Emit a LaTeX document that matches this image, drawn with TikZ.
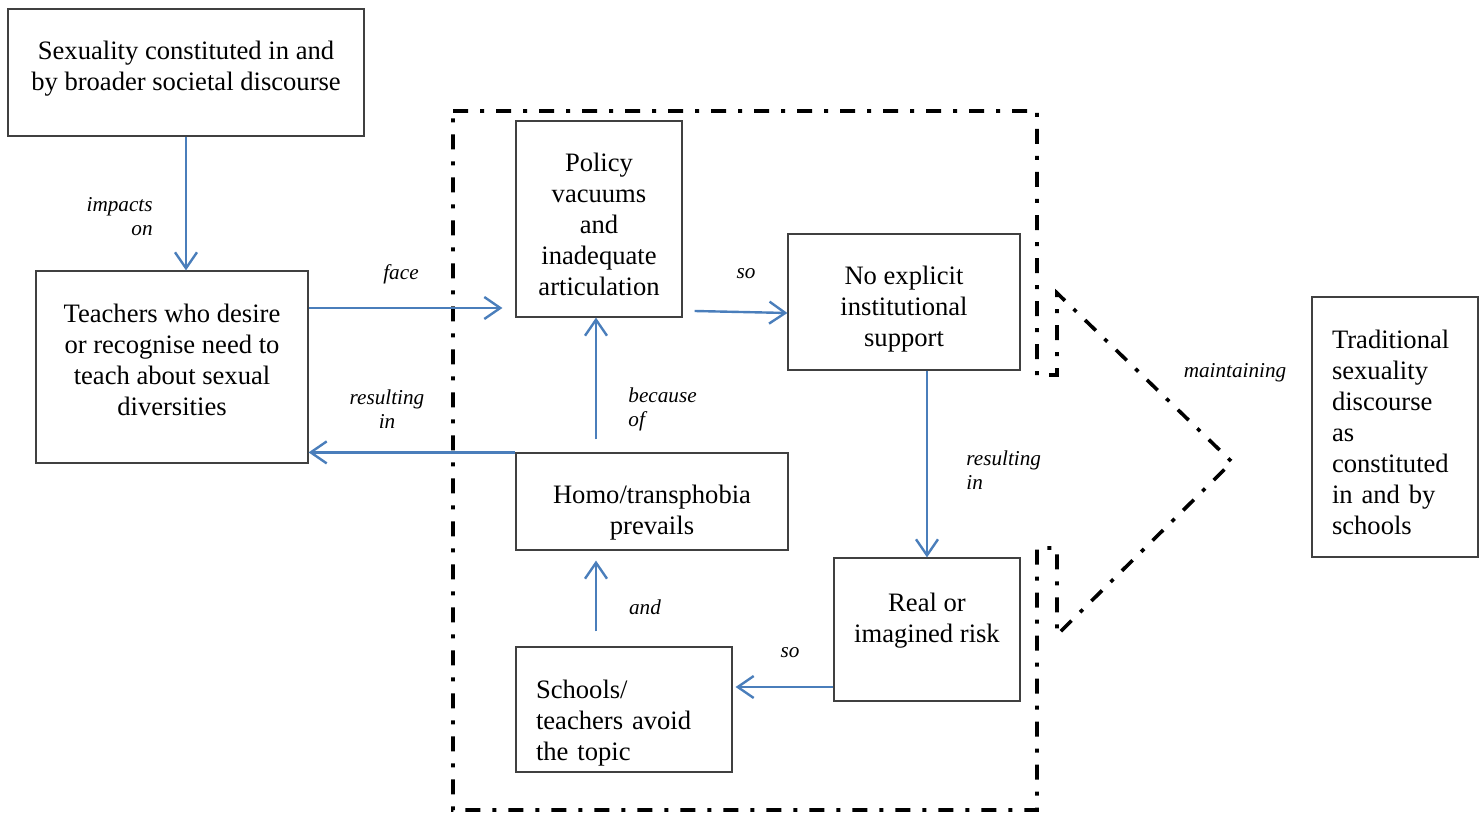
\documentclass[tikz,border=0pt]{standalone}
\usepackage{fontspec}
\setmainfont{Liberation Serif}
\usetikzlibrary{arrows.meta}
\usetikzlibrary{calc}
\definecolor{flowblue}{RGB}{74,126,187}
% invisible struts to move a box text down (top) or up (bot)
\newcommand{\padtop}[1]{\rule{0pt}{#1}}
\newcommand{\padbot}[1]{\rule[-#1]{0pt}{0pt}}
\tikzset{
	box/.style={draw=black!75, line width=0.6pt, rectangle, inner sep=2pt, align=center, font=\fontsize{13.3}{15.5}\selectfont},
	lbox/.style={box, align=left, inner xsep=10pt},
	% italic words on the arrows
	lbl/.style={inner sep=0pt, font=\fontsize{10.6}{12}\selectfont\itshape},
	frame/.style={line width=1.8pt, dash pattern=on 7.5pt off 6pt on 2pt off 6pt},
}

\begin{document}
\begin{tikzpicture}[x=0.5pt, y=-0.5pt]
	\useasboundingbox (0,0) rectangle (1484,813);

	\node (society) [box, minimum width=178pt, minimum height=63.5pt] at (186,72.5) {Sexuality constituted in and\\ by broader societal discourse\padbot{6.9pt}};
	\node (teachers) [box, minimum width=136pt, minimum height=96pt] at (172,367) {Teachers who desire\\ or recognise need to\\ teach about sexual\\ diversities\padbot{7pt}};

	\node (policy) [box, minimum width=83pt, minimum height=98pt] at (599,219) {\padtop{15.1pt}Policy\\ vacuums\\ and\\ inadequate\\ articulation};
	\node (support) [box, minimum width=116pt, minimum height=68pt] at (904,302) {\padtop{16.1pt}No explicit\\ institutional\\ support};
	\node (phobia) [box, minimum width=136pt, minimum height=48.5pt] at (652,501.5) {\padtop{20.1pt}Homo/transphobia\\ prevails};
	\node (risk) [box, minimum width=93pt, minimum height=71.5pt] at (927,629.5) {Real or\\ imagined risk\padbot{11.9pt}};
	\node (avoid) [lbox, text width=88pt, minimum height=62.5pt] at (624,709.5) {\padtop{23.1pt}Schools/\\ teachers avoid\\ the topic};

	\node (trad) [lbox, text width=63pt, minimum height=130pt] at (1395,427) {\padtop{15.1pt}Traditional\\ sexuality\\ discourse\\ as\\ constituted\\ in and by\\ schools};

	\node (impacts) [lbl, align=right, anchor=east] at (153,217) {impacts\\ on};
	\node (face) [lbl] at (401,274) {face};
	\node (so1) [lbl] at (746,274) {so};
	\node (result1) [lbl, align=center] at (387,409) {resulting\\ in};
	\node (because) [lbl, align=left, anchor=west] at (628,409) {because\\ of};
	\node (result2) [lbl, align=left, anchor=west] at (966,470) {resulting\\ in};
	\node (and) [lbl] at (645,607) {and};
	\node (so2) [lbl] at (790,653) {so};
	\node (maintain) [lbl] at (1235,373) {maintaining};

	% dash-dot outline with the arrow head
	\draw[frame] (453,111) -- (1037,111) -- (1037,375) -- (1057,375) -- (1057,293)
		-- (1232,462) -- (1057,635) -- (1057,548) -- (1037,548) -- (1037,810) -- (453,810) -- cycle;

	\begin{scope}[flowblue, line width=1.2pt, ->, >={Straight Barb[length=8pt, width=11pt]}]
		\draw (society.south) -- (society.south |- teachers.north);
		\draw ($(teachers.east)+(0,-59)$) -- ($(policy.west)+(-13,89)$);
		\draw ($(policy.east)+(12,92)$) -- ($(support.west)+(0,11)$);
		\draw (support.south -| risk.north) -- (risk.north);
		\draw (phobia.north west) -- (phobia.north west -| teachers.east);
		\draw ($(policy.south |- phobia.north)+(-3,-13)$) -- ($(policy.south)+(-3,0)$);
		\draw ($(avoid.north)+(-28,-15)$) -- ($(avoid.north |- phobia.south)+(-28,10)$);
		\draw ($(risk.west)+(0,57.5)$) -- ($(avoid.east |- risk.west)+(3,57.5)$);
	\end{scope}
\end{tikzpicture}
\end{document}
